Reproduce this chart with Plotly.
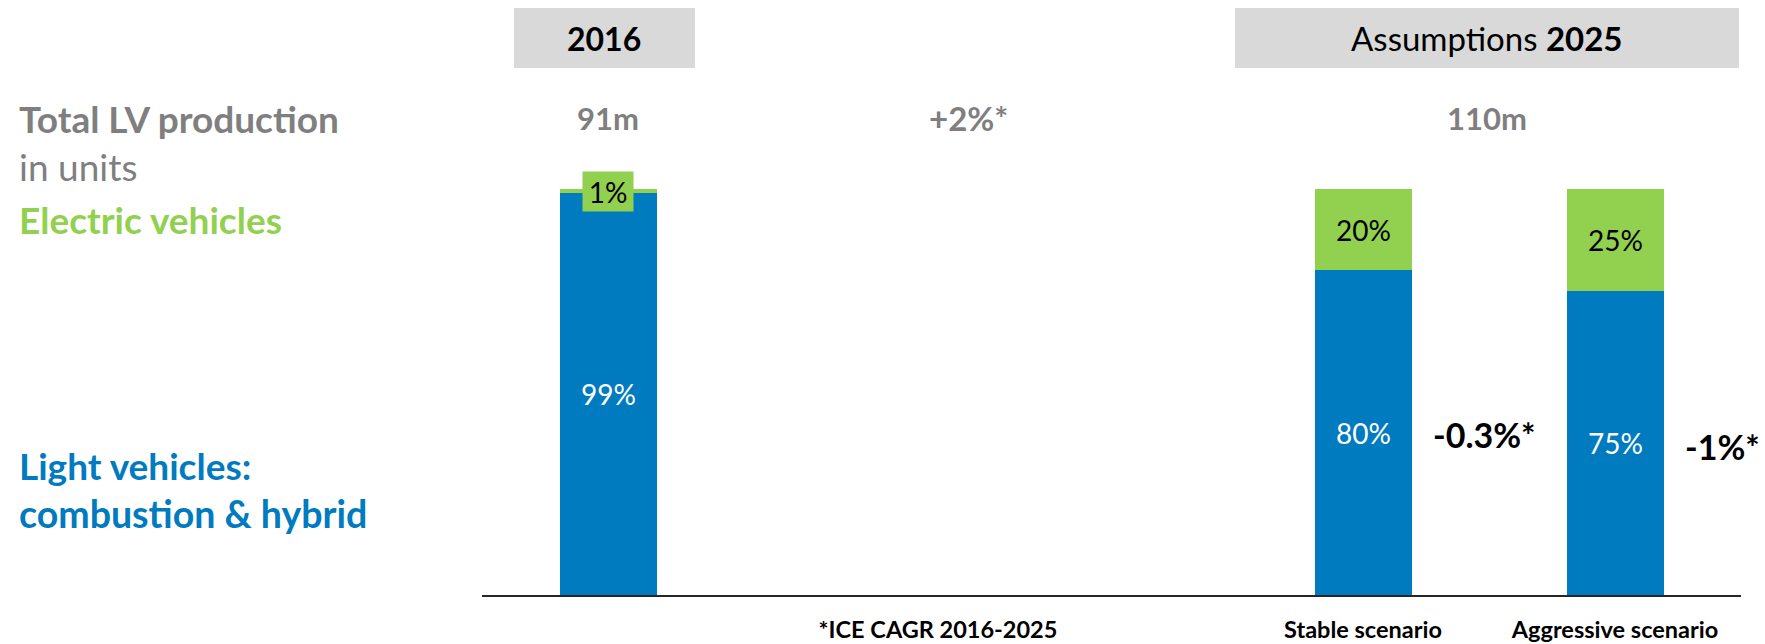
import plotly.graph_objects as go

# ---- data -------------------------------------------------------------
scenarios = ["2016", "Stable scenario", "Aggressive scenario"]
ice_share = [99, 80, 75]          # light vehicles: combustion & hybrid, % of production
ev_share = [1, 20, 25]            # electric vehicles, % of production
total_production = ["91m", "110m"]
lv_cagr = "+2%*"
ice_cagr = ["-0.3%*", "-1%*"]
footnote = "*ICE CAGR 2016-2025"
headers = ["2016", "2025"]

# ---- layout constants (pixels) ----------------------------------------
W, H = 1765, 644
L, R, T, B = 482, 24, 189, 49
PW, PH = W - L - R, H - T - B
BAR_X = [608, 1363, 1615]
BAR_W = 97
FOOT_X = 938

BLUE = "#007BC0"
GREEN = "#92D050"
GREY_TXT = "#7F7F7F"
GREY_BOX = "#D9D9D9"
FONT = "Lato"


def px(x):
    return (x - L) / PW


def py(y):
    return (H - B - y) / PH


fig = go.Figure()

fig.add_trace(go.Bar(
    x=BAR_X, y=ice_share, width=BAR_W, marker_color=BLUE, marker_line_width=0,
    text=[f"{v}%" for v in ice_share], textposition="inside",
    insidetextanchor="middle", textangle=0,
    textfont=dict(family=FONT, size=28, color="white"),
    constraintext="none", hoverinfo="skip", showlegend=False,
))
fig.add_trace(go.Bar(
    x=BAR_X, y=ev_share, width=BAR_W, marker_color=GREEN, marker_line_width=0,
    text=[f"{v}%" if v >= 5 else "" for v in ev_share], textposition="inside",
    insidetextanchor="middle", textangle=0,
    textfont=dict(family=FONT, size=28, color="black"),
    constraintext="none", hoverinfo="skip", showlegend=False,
))

ann = []


def label(text, x, y, size, color, xanchor="center", **kw):
    ann.append(dict(text=text, x=x, y=y, xref="paper", yref="paper",
                    xanchor=xanchor, yanchor="middle", showarrow=False,
                    font=dict(family=FONT, size=size, color=color), **kw))


# small EV share on the 2016 bar, boxed above the segment
label(f"{ev_share[0]}%", px(BAR_X[0]), py(191.5), 28, "black",
      bgcolor=GREEN, width=50, height=39, borderpad=0)

# left-hand legend text
label("<b>Total LV production</b>", px(17), py(118), 37, GREY_TXT, xanchor="left")
label("in units", px(17), py(167), 37, GREY_TXT, xanchor="left")
label("<b>Electric vehicles</b>", px(17), py(219), 37, GREEN, xanchor="left")
label("<b>Light vehicles:</b>", px(17), py(465), 37, BLUE, xanchor="left")
label("<b>combustion & hybrid</b>", px(17), py(513), 37.5, BLUE, xanchor="left")

# totals and overall growth
label(f"<b>{total_production[0]}</b>", px(BAR_X[0]), py(118), 31, GREY_TXT)
label(f"<b>{lv_cagr}</b>", px(968), py(118), 33, GREY_TXT)
label(f"<b>{total_production[1]}</b>", px(1487), py(118), 31, GREY_TXT)

# ICE growth per scenario
label(f"<b>{ice_cagr[0]}</b>", px(1484), py(434), 34, "black")
label(f"<b>{ice_cagr[1]}</b>", px(1722), py(446), 34, "black")

# header boxes
label(f"<b>{headers[0]}</b>", px(604), py(38), 32, "black")
label(f"Assumptions <b>{headers[1]}</b>", px(1487), py(38), 33, "black")

shapes = [
    dict(type="rect", xref="paper", yref="paper", x0=px(514), x1=px(695),
         y0=py(68), y1=py(8), fillcolor=GREY_BOX, line_width=0, layer="below"),
    dict(type="rect", xref="paper", yref="paper", x0=px(1235), x1=px(1739),
         y0=py(68), y1=py(8), fillcolor=GREY_BOX, line_width=0, layer="below"),
]

fig.update_layout(
    width=W, height=H,
    margin=dict(l=L, r=R, t=T, b=B, pad=0, autoexpand=False),
    barmode="stack", bargap=0,
    plot_bgcolor="white", paper_bgcolor="white",
    annotations=ann, shapes=shapes,
    xaxis=dict(range=[L, W - R], showgrid=False, zeroline=False,
               automargin=False,
               showline=True, linecolor="#262626", linewidth=2,
               tickvals=[FOOT_X, BAR_X[1], BAR_X[2]],
               ticktext=[f"<b>{footnote}</b>", f"<b>{scenarios[1]}</b>",
                         f"<b>{scenarios[2]}</b>"],
               ticks="", ticklabelstandoff=13,
               tickfont=dict(family=FONT, size=23.5, color="black"),
               fixedrange=True),
    yaxis=dict(range=[0, 100], visible=False, automargin=False, fixedrange=True),
)

fig.write_html("out.html")
